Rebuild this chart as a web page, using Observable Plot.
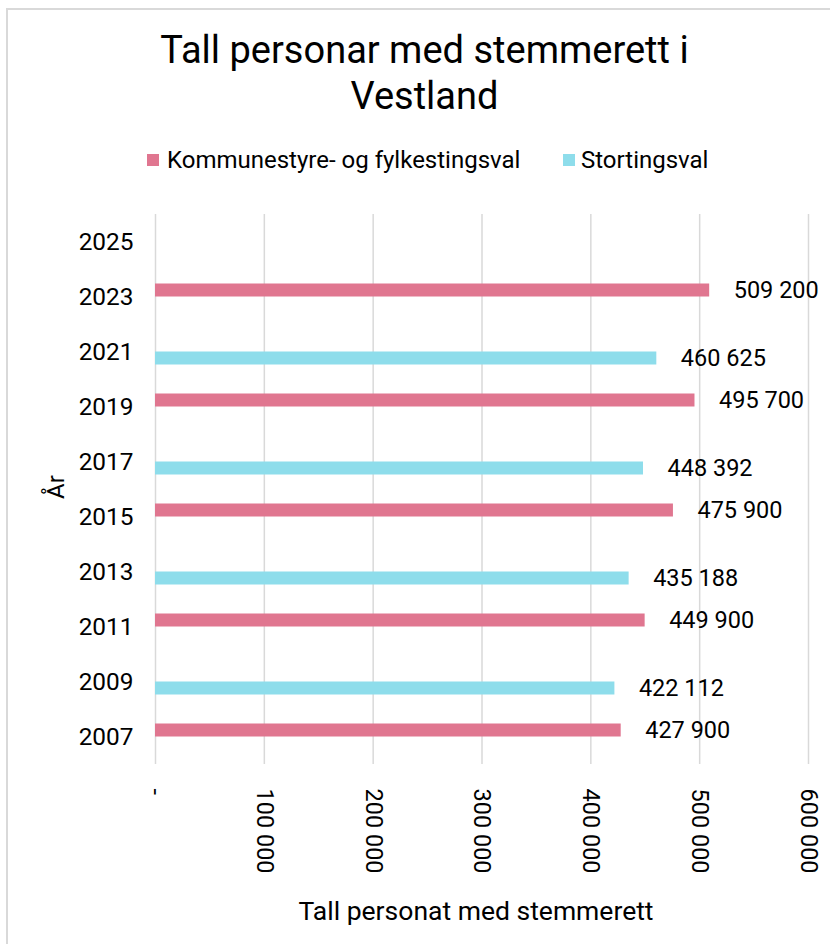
<!DOCTYPE html>
<html>
<head>
<meta charset="utf-8">
<script src="https://cdn.jsdelivr.net/npm/d3@7"></script>
<script src="https://cdn.jsdelivr.net/npm/@observablehq/plot@0.6"></script>
<style>
  html, body { margin: 0; padding: 0; background: #fff; }
  body { width: 830px; height: 944px; position: relative; overflow: hidden; font-family: Roboto, sans-serif; color: #000; }
  #frame { position: absolute; left: 6px; top: 8px; width: 900px; height: 1000px; border-left: 2px solid #d9d9d9; border-top: 2px solid #d9d9d9; }
  #title { position: absolute; left: 0; width: 849px; top: 27px; text-align: center; font-size: 38px; line-height: 46px; }
  .leg { position: absolute; top: 146px; font-size: 24px; line-height: 28px; white-space: nowrap; }
  .sw { position: absolute; width: 12px; height: 12px; top: 154px; }
  #ylab { position: absolute; left: 56px; top: 487px; transform: translate(-50%, -50%) rotate(-90deg); font-size: 24px; white-space: nowrap; }
  #xlab { position: absolute; left: 0; width: 952px; top: 895px; text-align: center; font-size: 26.5px; white-space: nowrap; }
  #chart { position: absolute; left: 0; top: 190px; }
</style>
</head>
<body>
<div id="frame"></div>
<div id="title">Tall personar med stemmerett i<br>Vestland</div>
<div id="legend"></div>
<div id="ylab">År</div>
<div id="xlab">Tall personat med stemmerett</div>
<div id="chart"></div>
<script>
const years = ["2007", "2009", "2011", "2013", "2015", "2017", "2019", "2021", "2023", "2025"];
const kommunestyre = [427900, null, 449900, null, 475900, null, 495700, null, 509200, null];
const storting = [null, 422112, null, 435188, null, 448392, null, 460625, null, null];
const seriesNames = ["Kommunestyre- og fylkestingsval", "Stortingsval"];
const seriesColors = ["#E07690", "#8EDDEB"];
const xTicks = [0, 100000, 200000, 300000, 400000, 500000, 600000];

const locale = d3.formatLocale({decimal: ",", thousands: " ", grouping: [3], currency: ["", ""]});
const fmt = locale.format(",d");

const data = years.flatMap((year, i) => [
  {year, series: seriesNames[0], value: kommunestyre[i]},
  {year, series: seriesNames[1], value: storting[i]}
]);

// legend
const legend = document.getElementById("legend");
const legPos = [[147, 167], [563, 581]];
seriesNames.forEach((name, i) => {
  const sw = document.createElement("div");
  sw.className = "sw";
  sw.style.left = legPos[i][0] + "px";
  sw.style.background = seriesColors[i];
  legend.appendChild(sw);
  const t = document.createElement("div");
  t.className = "leg";
  t.style.left = legPos[i][1] + "px";
  t.textContent = name;
  legend.appendChild(t);
});

const chart = Plot.plot({
  width: 830,
  height: 754,
  marginLeft: 155,
  marginRight: 22,
  marginTop: 21.5,
  marginBottom: 177.5,
  style: {fontFamily: "Roboto, sans-serif", fontSize: "23.5px", color: "#000", background: "transparent", overflow: "visible"},
  x: {domain: [0, 600000]},
  y: {domain: seriesNames, paddingInner: 0, paddingOuter: 1.1, axis: null},
  fy: {domain: years.slice().reverse(), padding: 0},
  color: {domain: seriesNames, range: seriesColors},
  marks: [
    Plot.gridX(xTicks, {stroke: "#d9d9d9", strokeOpacity: 1, strokeWidth: 1.5}),
    Plot.axisX(xTicks, {tickSize: 0, tickPadding: 24, tickRotate: 90, tickFormat: d => d === 0 ? "-" : fmt(d), label: null, fontSize: 23.5}),
    Plot.axisFy({anchor: "left", tickSize: 0, tickPadding: 22, label: null, fontSize: 24.4}),
    Plot.barX(data, {x: "value", y: "series", fy: "year", fill: "series"}),
    Plot.text(data, {x: "value", y: "series", fy: "year", text: d => d.value == null ? null : fmt(d.value), textAnchor: "start", dx: 24, fontSize: 23.5, fill: "#000"})
  ]
});
document.getElementById("chart").appendChild(chart);
</script>
</body>
</html>
